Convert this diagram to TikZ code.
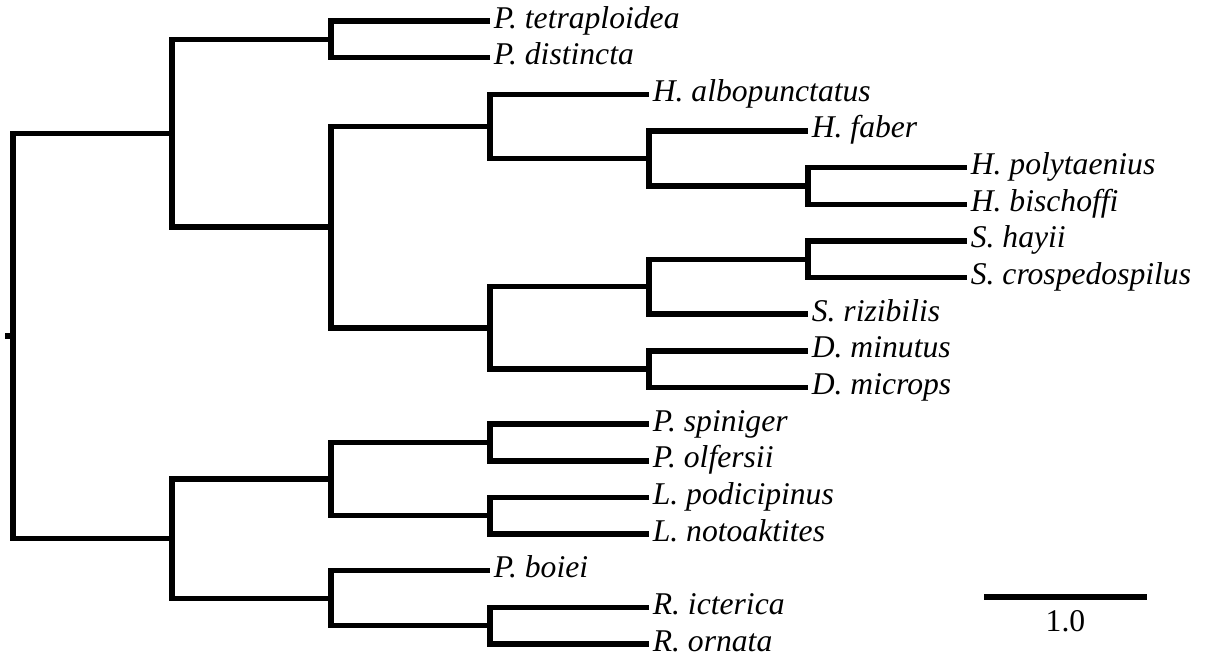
\documentclass[tikz,border=0pt]{standalone}
\usepackage{fontspec}
\setmainfont{Liberation Serif}
\begin{document}
\begin{tikzpicture}[x=3.18cm,y=-0.733cm,
	branch/.style={line width=3.1pt},
	taxon/.style={anchor=west,inner xsep=2pt,inner ysep=0pt,text height=.9em,text depth=.1em,font=\fontsize{18}{20}\selectfont\itshape}]
	\useasboundingbox (-0.0818,-0.573) rectangle (7.541,17.435);
	% taxa (level, row)
	\foreach \name/\lvl/\txt [count=\i from 0] in {tetra/3/P. tetraploidea, disti/3/P. distincta, albop/4/H. albopunctatus, faber/5/H. faber, polyt/6/H. polytaenius, bisch/6/H. bischoffi, hayii/6/S. hayii, crosp/6/S. crospedospilus, rizib/5/S. rizibilis, minut/5/D. minutus, micro/5/D. microps, spini/4/P. spiniger, olfer/4/P. olfersii, podic/4/L. podicipinus, notoa/4/L. notoaktites, boiei/3/P. boiei, icter/4/R. icterica, ornat/4/R. ornata}
	\node[taxon] (\name) at (\lvl,\i) {\txt};
	% clades
	\foreach \name/\lvl/\pos in {pd/2/0.5, pb/5/4.5, hf/4/3.75, hc/3/2.875, sc/5/6.5, ss/4/7.25, dm/4/9.5, sd/3/8.375, hsd/2/5.625, top/1/3.0625, po/3/11.5, ln/3/13.5, pl/2/12.5, ri/3/16.5, br/2/15.75, bot/1/14.125, root/0/8.59375}
	\coordinate (\name) at (\lvl,\pos);
	\coordinate (stub) at (-0.05,8.59375);
	% branches
	\foreach \from/\to in {root/top, root/bot, top/pd, top/hsd, pd/tetra.west, pd/disti.west, hsd/hc, hsd/sd, hc/albop.west, hc/hf, hf/faber.west, hf/pb, pb/polyt.west, pb/bisch.west, sd/ss, sd/dm, ss/sc, ss/rizib.west, sc/hayii.west, sc/crosp.west, dm/minut.west, dm/micro.west, bot/pl, bot/br, pl/po, pl/ln, po/spini.west, po/olfer.west, ln/podic.west, ln/notoa.west, br/boiei.west, br/ri, ri/icter.west, ri/ornat.west}
	\draw[branch] (\from) |- (\to);
	\draw[branch] (stub) -- (root);
	% scale bar
	\coordinate (bar-l) at (6.107,15.716);
	\coordinate (bar-r) at (7.132,15.716);
	\draw[branch] (bar-l) -- node[below=3pt,font=\fontsize{18}{20}\selectfont] (barlabel) {1.0} (bar-r);
\end{tikzpicture}
\end{document}
